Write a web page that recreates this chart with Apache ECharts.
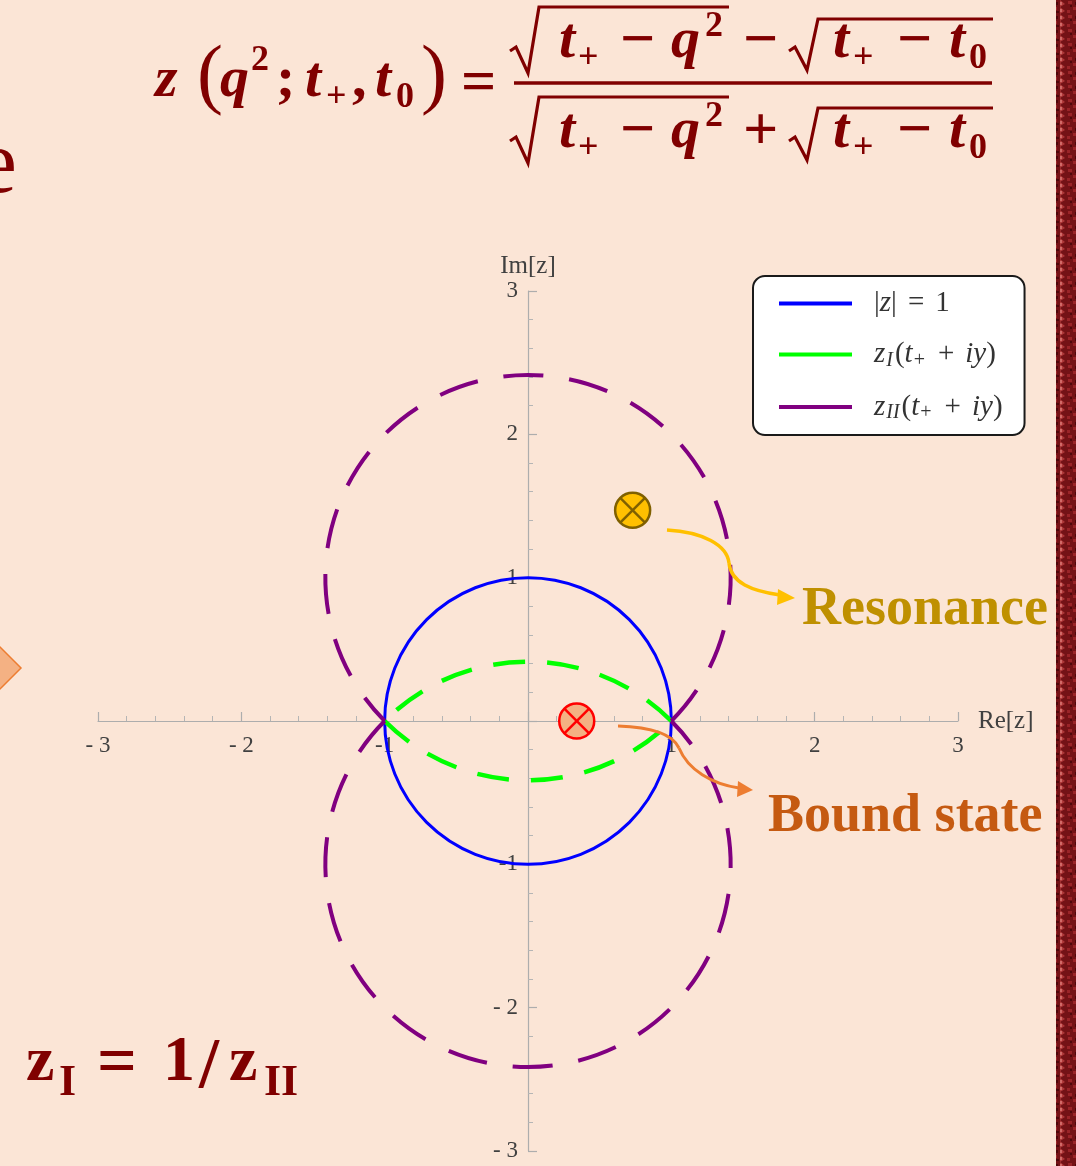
<!DOCTYPE html>
<html>
<head>
<meta charset="utf-8">
<script src="https://cdn.jsdelivr.net/npm/echarts@6/dist/echarts.min.js"></script>
<style>
  html, body { margin: 0; padding: 0; background: #FBE5D6; }
  #chart { width: 1076px; height: 1166px; }
</style>
</head>
<body>
<div id="chart"></div>
<script>
// ---- z-plane data ----------------------------------------------------------
// Axis range and ticks (Re[z], Im[z])
const axisMin = -3;
const axisMax = 3;
const axisStep = 1;

// Circular arcs: [centre Re, centre Im, radius, start angle deg, end angle deg], counter-clockwise
const unitCircleArcs = [[0, 0, 1, 0, 360]];
const sheetIArcs = [[0, 1, 1.414, 225, 315], [0, -1, 1.414, 45, 135]];
const sheetIIArcs = [[0, 1, 1.414, -45, 225], [0, -1, 1.414, 135, 405]];

// Poles [Re, Im]
const resonancePoles = [[0.73, 1.47]];
const boundStatePoles = [[0.34, 0]];

// Legend names
const seriesNames = ['|z| = 1', 'zI(t+ + iy)', 'zII(t+ + iy)'];

// ---- drawing helpers -------------------------------------------------------
const DEG = Math.PI / 180;
const GRID = { left: 98, top: 291, width: 860, height: 860 };

function arcItem(color, width, dash) {
  return function (params, api) {
    const c = api.coord([api.value(0), api.value(1)]);
    const r = api.size([api.value(2), 0])[0];
    return {
      type: 'arc',
      silent: true,
      shape: {
        cx: c[0], cy: c[1], r: r,
        startAngle: -api.value(3) * DEG,
        endAngle: -api.value(4) * DEG,
        clockwise: false
      },
      style: { stroke: color, lineWidth: width, lineDash: dash, fill: null, lineCap: 'butt' }
    };
  };
}

function poleItem(fill, stroke) {
  return function (params, api) {
    const p = api.coord([api.value(0), api.value(1)]);
    const r = 17.5;
    const d = r * 0.7071;
    return {
      type: 'group',
      silent: true,
      children: [
        { type: 'circle', shape: { cx: p[0], cy: p[1], r: r }, style: { fill: fill, stroke: stroke, lineWidth: 2.5 } },
        { type: 'line', shape: { x1: p[0] - d, y1: p[1] - d, x2: p[0] + d, y2: p[1] + d }, style: { stroke: stroke, lineWidth: 2.5 } },
        { type: 'line', shape: { x1: p[0] - d, y1: p[1] + d, x2: p[0] + d, y2: p[1] - d }, style: { stroke: stroke, lineWidth: 2.5 } }
      ]
    };
  };
}

function arcSeries(name, data, color, width, dash) {
  return {
    type: 'custom',
    name: name,
    coordinateSystem: 'cartesian2d',
    encode: { x: 0, y: 1 },
    itemStyle: { color: color },
    renderItem: arcItem(color, width, dash),
    data: data,
    z: 3
  };
}

function poleSeries(data, fill, stroke) {
  return {
    type: 'custom',
    coordinateSystem: 'cartesian2d',
    encode: { x: 0, y: 1 },
    renderItem: poleItem(fill, stroke),
    data: data,
    z: 5
  };
}

// ---- text pieces for the formulas -----------------------------------------
const RED = '#800000';
const SERIF = '"Liberation Serif", "DejaVu Serif", serif';

function txt(s, x, baseline, size, opts) {
  opts = opts || {};
  const weight = opts.weight || 'bold';
  const style = opts.italic ? 'italic ' : '';
  return {
    type: 'text',
    x: x,
    y: baseline - size * 0.3,
    z: 50,
    silent: true,
    style: {
      text: s,
      font: style + weight + ' ' + size + 'px ' + SERIF,
      fill: opts.color || RED,
      align: opts.align || 'left',
      verticalAlign: 'middle'
    }
  };
}

function opSign(s, x, centerY, size) {
  return {
    type: 'text', x: x, y: centerY, z: 50, silent: true,
    style: { text: s, font: 'bold ' + size + 'px ' + SERIF, fill: RED, align: 'left', verticalAlign: 'middle' }
  };
}

function radical(x0, yMid, yBottom, yTop, xEnd) {
  return {
    type: 'polyline', z: 50, silent: true,
    shape: { points: [[x0, yMid + 4], [x0 + 6, yMid], [x0 + 18, yBottom], [x0 + 29, yTop], [xEnd, yTop]] },
    style: { stroke: RED, lineWidth: 3.2, fill: null, lineJoin: 'miter' }
  };
}

const F = 58;      // main size
const FS = 36;     // script size
const OP = 62;     // operator size

function fractionRow(base, opCenter, top1, top2, middleOp) {
  return [
    radical(510, base - 12, base + 14, top1, 729),
    txt('t', 559, base, F, { italic: true }),
    txt('+', 578, base + 11, FS),
    opSign('\u2212', 620, opCenter, OP),
    txt('q', 671, base, F, { italic: true }),
    txt('2', 705, base - 21, FS),
    opSign(middleOp, 743, opCenter, OP),
    radical(789, base - 12, base + 11, top2, 993),
    txt('t', 833, base, F, { italic: true }),
    txt('+', 853, base + 11, FS),
    opSign('\u2212', 897, opCenter, OP),
    txt('t', 949, base, F, { italic: true }),
    txt('0', 969, base + 11, FS)
  ];
}

const formulaTop = [
  txt('z', 155, 98, F, { italic: true }),
  txt('(', 197, 102, 78, { weight: 'normal' }),
  txt('q', 220, 98, F, { italic: true }),
  txt('2', 251, 72, FS),
  txt(';', 276, 98, F),
  txt('t', 305, 98, F, { italic: true }),
  txt('+', 326, 109, FS),
  txt(',', 352, 98, F),
  txt('t', 375, 98, F, { italic: true }),
  txt('0', 396, 109, FS),
  txt(')', 421, 102, 78, { weight: 'normal' }),
  opSign('=', 461, 85, OP),
  { type: 'line', z: 50, silent: true, shape: { x1: 514, y1: 83, x2: 992, y2: 83 }, style: { stroke: RED, lineWidth: 3.5 } }
].concat(fractionRow(59, 43, 7, 19, '\u2212'), fractionRow(149, 133, 97, 108, '+'));

const formulaBottom = [
  txt('z', 26, 1083, 64),
  txt('I', 59, 1097, 44),
  opSign('=', 97, 1066, 70),
  txt('1', 163, 1083, 64),
  txt('/', 199, 1090, 72),
  txt('z', 229, 1083, 64),
  txt('II', 264, 1097, 44)
];

// Textured border strip on the right edge
function borderPattern() {
  const cv = document.createElement('canvas');
  cv.width = 20; cv.height = 14;
  const g = cv.getContext('2d');
  g.fillStyle = '#741216'; g.fillRect(0, 0, 20, 14);
  g.fillStyle = '#b0393a';
  g.beginPath(); g.moveTo(0, 0); g.lineTo(5, 4); g.lineTo(0, 7); g.lineTo(5, 11); g.lineTo(0, 14); g.closePath(); g.fill();
  g.fillStyle = '#d06a68';
  g.fillRect(0, 2, 2, 3); g.fillRect(0, 9, 2, 3);
  g.fillStyle = '#9a2428';
  g.fillRect(8, 1, 4, 3); g.fillRect(13, 7, 4, 3); g.fillRect(7, 10, 3, 3);
  g.fillStyle = '#4e070b';
  g.fillRect(15, 2, 3, 3); g.fillRect(10, 5, 2, 2); g.fillRect(16, 11, 3, 2);
  return cv;
}

function curve(p, color, width) {
  return {
    type: 'bezierCurve', z: 45, silent: true,
    shape: { x1: p[0], y1: p[1], cpx1: p[2], cpy1: p[3], cpx2: p[4], cpy2: p[5], x2: p[6], y2: p[7] },
    style: { stroke: color, lineWidth: width, fill: null }
  };
}

const decorations = [
  // cropped slide title letter and arrow shape on the left edge
  txt('e', 17, 195, 90, { weight: 'normal', align: 'right' }),
  { type: 'polygon', z: 40, silent: true, shape: { points: [[-12, 635], [21, 668], [-12, 701]] },
    style: { fill: '#F4B183', stroke: '#ED7D31', lineWidth: 1.5 } },
  { type: 'rect', z: 40, silent: true, shape: { x: 1056, y: 0, width: 20, height: 1166 },
    style: { fill: { image: borderPattern(), repeat: 'repeat' } } },
  // annotation arrows
  curve([667, 530, 703, 532, 727, 545, 729, 563], '#FFC000', 3.5),
  curve([729, 563, 731, 583, 752, 591, 780, 595], '#FFC000', 3.5),
  { type: 'polygon', z: 45, silent: true, shape: { points: [[795, 598], [778, 589], [777, 605]] },
    style: { fill: '#FFC000' } },
  curve([618, 726, 650, 727, 672, 733, 679, 748], '#ED7D31', 3),
  curve([679, 748, 688, 770, 712, 784, 739, 788], '#ED7D31', 3),
  { type: 'polygon', z: 45, silent: true, shape: { points: [[753, 790], [738, 781], [737, 797]] },
    style: { fill: '#ED7D31' } },
  txt('Resonance', 802, 626, 54, { color: '#BF9000' }),
  txt('Bound state', 768, 833, 54, { color: '#C55A11' })
];

// ---- axes ------------------------------------------------------------------
function tickText(v) {
  if (v === 0) return '';
  if (v < 0) return v === -1 ? '-1' : '- ' + (-v);
  return String(v);
}

const axisCommon = {
  type: 'value',
  min: axisMin,
  max: axisMax,
  interval: axisStep,
  splitLine: { show: false },
  axisLine: { onZero: false, lineStyle: { color: '#adadad', width: 1.2 } },
  axisTick: { inside: true, length: 9, lineStyle: { color: '#adadad', width: 1.2 } },
  minorTick: { show: true, splitNumber: 5, length: 5, lineStyle: { color: '#b5b5b5', width: 1 } },
  axisLabel: { formatter: tickText, fontFamily: SERIF, fontSize: 23, color: '#404040' },
  nameTextStyle: { fontFamily: SERIF, fontSize: 25, color: '#404040' }
};

const legendLabels = {
  '|z| = 1': '{g|}{r||}{i|z}{r||}{op|=}{r|1}',
  'zI(t+ + iy)': '{g|}{i|z}{s|I}{r|(}{i|t}{sr|+}{op|+}{i|iy}{r|)}',
  'zII(t+ + iy)': '{g|}{i|z}{s|II}{r|(}{i|t}{sr|+}{op|+}{i|iy}{r|)}'
};

const legendColors = ['#0000FF', '#00FF00', '#800080'];
const LEG = { fontFamily: SERIF, fontSize: 29, lineHeight: 32, color: '#333' };
const LEGSUB = { fontFamily: SERIF, fontSize: 20, lineHeight: 17, verticalAlign: 'bottom', color: '#333', padding: [0, 2, 0, 1] };

const option = {
  backgroundColor: '#FBE5D6',
  animation: false,
  grid: Object.assign({ outerBoundsMode: 'none', containLabel: false }, GRID),
  xAxis: Object.assign({}, axisCommon, {
    position: 'bottom',
    offset: -GRID.height / 2,
    name: 'Re[z]', nameLocation: 'end', nameGap: 20,
    axisLabel: Object.assign({}, axisCommon.axisLabel, { margin: 13 })
  }),
  yAxis: Object.assign({}, axisCommon, {
    position: 'left',
    offset: -GRID.width / 2,
    name: 'Im[z]', nameLocation: 'end', nameGap: 12,
    axisLabel: Object.assign({}, axisCommon.axisLabel, { margin: 10 })
  }),
  legend: {
    orient: 'vertical',
    left: 753,
    top: 276,
    selectedMode: false,
    data: seriesNames.map(function (n, i) {
      return { name: n, icon: 'rect', itemStyle: { color: legendColors[i] } };
    }),
    itemWidth: 73,
    itemHeight: 4,
    itemGap: 22,
    padding: [13, 22, 12, 26],
    backgroundColor: '#ffffff',
    borderColor: '#1a1a1a',
    borderWidth: 2,
    borderRadius: 12,
    formatter: function (name) { return legendLabels[name]; },
    textStyle: {
      rich: {
        g: { width: 17 },
        r: LEG,
        i: Object.assign({}, LEG, { fontStyle: 'italic' }),
        op: Object.assign({}, LEG, { padding: [0, 11, 0, 11] }),
        s: Object.assign({}, LEGSUB, { fontStyle: 'italic' }),
        sr: LEGSUB
      }
    }
  },
  series: [
    arcSeries(seriesNames[0], unitCircleArcs, '#0000FF', 3, null),
    arcSeries(seriesNames[1], sheetIArcs, '#00FF00', 4.5, [32, 22]),
    arcSeries(seriesNames[2], sheetIIArcs, '#800080', 4, [40, 26]),
    poleSeries(resonancePoles, '#FFC000', '#7F6000'),
    poleSeries(boundStatePoles, '#F4B183', '#FF0000')
  ],
  graphic: { elements: formulaTop.concat(formulaBottom, decorations) }
};

const chart = echarts.init(document.getElementById('chart'), null, { renderer: 'canvas' });
chart.setOption(option);
</script>
</body>
</html>
